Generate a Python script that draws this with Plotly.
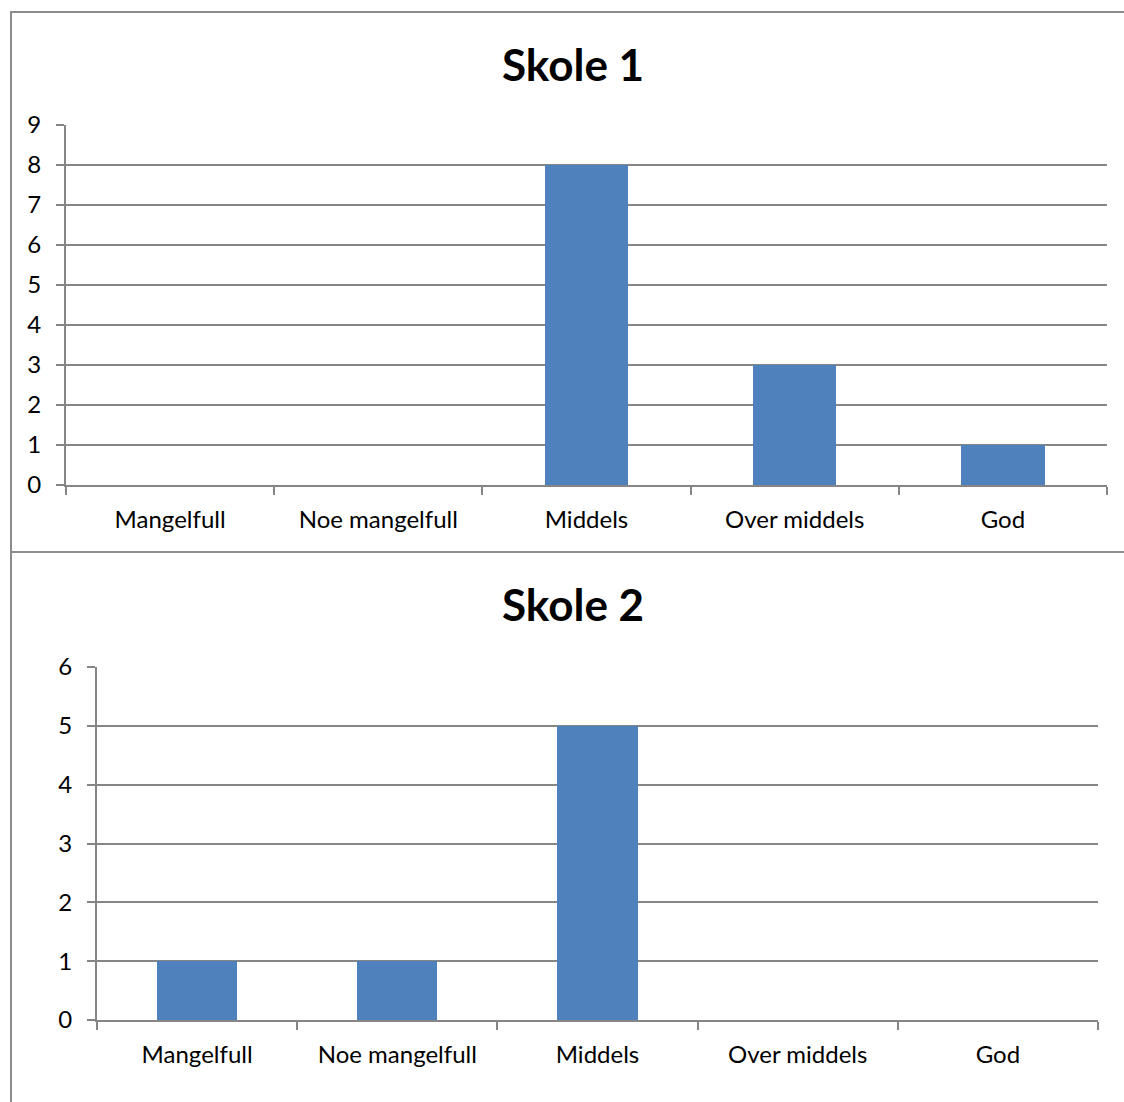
import plotly.graph_objects as go

# Ratings per school
categories = ["Mangelfull", "Noe mangelfull", "Middels", "Over middels", "God"]
skole1_values = [0, 0, 8, 3, 1]
skole2_values = [1, 1, 5, 0, 0]
titles = ["Skole 1", "Skole 2"]

W, H = 1124, 1102
BAR = "#4f81bd"
GRID = "#868686"
FONT = "Lato, 'Open Sans', sans-serif"


def px_x(v):
    return v / W


def px_y(v):
    return 1 - v / H


fig = go.Figure()
fig.add_trace(go.Bar(x=categories, y=skole1_values, marker_color=BAR,
                     marker_line_width=0, width=0.4, xaxis="x", yaxis="y",
                     showlegend=False))
fig.add_trace(go.Bar(x=categories, y=skole2_values, marker_color=BAR,
                     marker_line_width=0, width=0.4, xaxis="x2", yaxis="y2",
                     showlegend=False))

common_x = dict(type="category", showgrid=False, showline=True, linecolor=GRID,
                linewidth=2, ticks="outside", tickson="boundaries", ticklen=8,
                tickcolor=GRID, tickwidth=1.5, automargin=False,
                ticklabelstandoff=12,
                tickfont=dict(family=FONT, size=24, color="#000"),
                fixedrange=True)
common_y = dict(showgrid=True, gridcolor=GRID, gridwidth=1.5, showline=True,
                linecolor=GRID, linewidth=2, ticks="outside", ticklen=8,
                tickcolor=GRID, tickwidth=1.5, dtick=1, zeroline=False,
                automargin=False, ticklabelstandoff=10,
                tickfont=dict(family=FONT, size=24, color="#000"),
                fixedrange=True)

fig.update_layout(
    template="none",
    width=W, height=H,
    margin=dict(l=0, r=0, t=0, b=0, pad=0, autoexpand=False),
    paper_bgcolor="white", plot_bgcolor="white",
    bargap=0,
    xaxis=dict(common_x, domain=[px_x(66), px_x(1107)], anchor="y"),
    yaxis=dict(common_y, domain=[px_y(485), px_y(125)], range=[0, 9],
               anchor="x"),
    xaxis2=dict(common_x, domain=[px_x(97), px_x(1098)], anchor="y2"),
    yaxis2=dict(common_y, domain=[px_y(1020), px_y(667)], range=[0, 6],
                anchor="x2"),
    annotations=[
        dict(text="<b>%s</b>" % titles[0], x=px_x(573), y=px_y(64),
             xref="paper", yref="paper", showarrow=False,
             font=dict(family=FONT, size=44, color="#000"),
             xanchor="center", yanchor="middle"),
        dict(text="<b>%s</b>" % titles[1], x=px_x(573), y=px_y(604),
             xref="paper", yref="paper", showarrow=False,
             font=dict(family=FONT, size=44, color="#000"),
             xanchor="center", yanchor="middle"),
    ],
    shapes=[
        # chart frames
        dict(type="line", xref="paper", yref="paper", x0=px_x(11), x1=px_x(11),
             y0=px_y(12), y1=0, line=dict(color="#8c8c8c", width=2)),
        dict(type="line", xref="paper", yref="paper", x0=px_x(10), x1=1,
             y0=px_y(12), y1=px_y(12), line=dict(color="#8c8c8c", width=2)),
        dict(type="line", xref="paper", yref="paper", x0=px_x(10), x1=1,
             y0=px_y(552), y1=px_y(552), line=dict(color="#8c8c8c", width=2)),
    ],
)

fig.write_html("out.html")
